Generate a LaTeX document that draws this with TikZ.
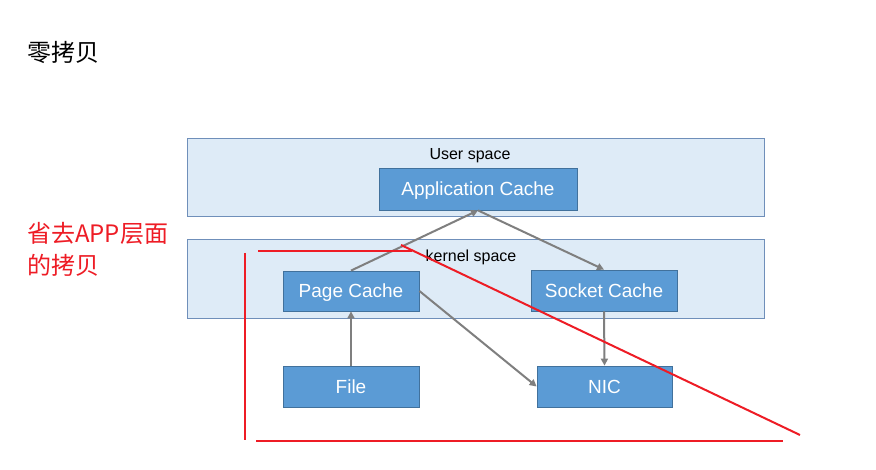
\documentclass[tikz,border=0pt]{standalone}
\usepackage{fontspec}
\setmainfont{Liberation Sans}
\newfontfamily\cjk{Noto Sans CJK SC}
\usetikzlibrary{arrows.meta}
\definecolor{layerfill}{HTML}{DEEBF7}
\definecolor{layerline}{HTML}{6F8FBA}
\definecolor{boxfill}{HTML}{5B9BD5}
\definecolor{boxline}{HTML}{41719C}
\definecolor{flowgray}{HTML}{7F7F7F}
\definecolor{markred}{HTML}{EE1C25}
\begin{document}
\begin{tikzpicture}[x=1pt,y=-1pt,
  layer/.style={draw=layerline, fill=layerfill, line width=1pt, minimum width=577pt, inner sep=0pt},
  cachebox/.style={draw=boxline, fill=boxfill, text=white, line width=0.8pt, inner sep=0pt,
    font=\fontsize{19}{22}\selectfont, text height=13.6pt, text depth=0pt},
  layerlabel/.style={font=\fontsize{16}{18}\selectfont, inner sep=0pt, text height=11.5pt, text depth=0pt},
  flowarrow/.style={draw=flowgray, line width=2pt, -{Triangle[length=7pt,width=7pt]}},
  markline/.style={draw=markred, line width=2pt}]

\useasboundingbox (0,0) rectangle (876,470);
\fill[white] (0,0) rectangle (876,470);

% title and side note
\node[font=\cjk\fontsize{24}{28}\selectfont, anchor=west, inner sep=0pt] (title) at (27,52) {零拷贝};
\node[font=\cjk\fontsize{24}{32}\selectfont, text=markred, anchor=north west, align=left, inner sep=0pt]
  (note) at (27,222) {省去APP层面\\的拷贝};

% layers
\node[layer, minimum height=78pt] (user) at (475.5,178) {};
\node[layer, minimum height=79pt] (kernel) at (475.5,279.5) {};
\node[layerlabel] (userlbl) at (470,154) {User space};
\node[layerlabel] (kernellbl) at (471,256) {kernel space};

% buffers
\node[cachebox, minimum width=198pt, minimum height=42pt] (app) at (478,189) {Application Cache};
\node[cachebox, minimum width=136pt, minimum height=40pt] (page) at (351,291) {Page Cache};
\node[cachebox, minimum width=146pt, minimum height=41pt] (socket) at (604,290.5) {Socket Cache};
\node[cachebox, minimum width=136pt, minimum height=41pt] (file) at (351,386.5) {File};
\node[cachebox, minimum width=135pt, minimum height=41pt] (nic) at (604.5,386.5) {NIC};

% data flow
\draw[flowarrow] (page.north) -- (app.south);
\draw[flowarrow] (app.south) -- (socket.north);
\draw[flowarrow] (file.north) -- (page.south);
\draw[flowarrow] (page.east) -- (nic.west);
\draw[flowarrow] (socket.south) -- (nic.north);

% hand-drawn red marks
\coordinate (va) at (245,253);
\coordinate (vb) at (245,440);
\coordinate (ta) at (258,251);
\coordinate (tb) at (412,251);
\coordinate (da) at (401,245);
\coordinate (db) at (800,435);
\coordinate (ba) at (256,441);
\coordinate (bb) at (783,441);
\draw[markline] (va) -- (vb);
\draw[markline] (ta) -- (tb);
\draw[markline] (da) -- (db);
\draw[markline] (ba) -- (bb);
\end{tikzpicture}
\end{document}
